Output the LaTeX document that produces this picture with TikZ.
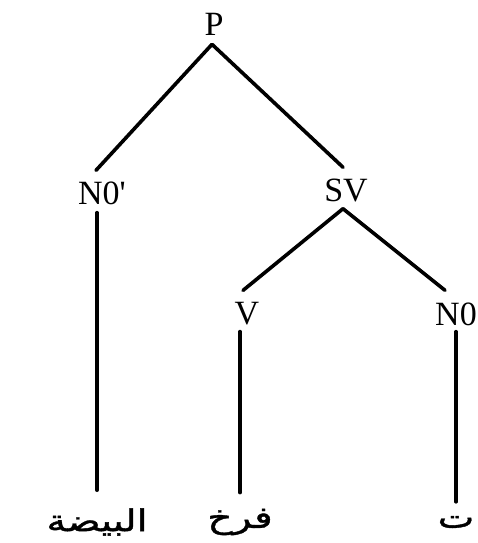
\documentclass[tikz,border=0pt]{standalone}
\usepackage{fontspec}
\setmainfont{Liberation Serif}
\newfontfamily\arabicfont[Script=Arabic,FakeStretch=1.3,FakeBold=1.2]{DejaVu Sans}
\TeXXeTstate=1
\begin{document}
\begin{tikzpicture}[x=1pt,y=-1pt,
  lbl/.style={inner sep=0pt,font=\fontsize{34}{38}\selectfont},
  word/.style={inner sep=0pt,font=\arabicfont\fontsize{30}{34}\selectfont},
  branch/.style={line width=3.6pt,line cap=round}]
\useasboundingbox (0,0) rectangle (478,543);
% category labels
\node[lbl] (P)   at (214,24)  {P};
\node[lbl] (N0p) at (102,193) {N0\textquotesingle};
\node[lbl] (SV)  at (346,190) {SV};
\node[lbl] (V)   at (247,314) {V};
\node[lbl] (N0)  at (456,314) {N0};
% Arabic leaves
\node[word] (w1) at (97,522)  {\beginR البيضة\endR};
\node[word] (w2) at (240,522) {\beginR فرخ\endR};
\node[word] (w3) at (456,522) {\beginR ت\endR};
% branches
\draw[branch] ([xshift=-2pt,yshift=-9pt]P.south) -- ([xshift=-6pt,yshift=11pt]N0p.north);
\draw[branch] ([xshift=-2pt,yshift=-9pt]P.south) -- ([xshift=-3pt,yshift=11pt]SV.north);
\draw[branch] ([xshift=-3pt,yshift=-7pt]SV.south) -- ([xshift=-4pt,yshift=12pt]V.north);
\draw[branch] ([xshift=-3pt,yshift=-7pt]SV.south) -- ([xshift=-11pt,yshift=12pt]N0.north);
\draw[branch] ([yshift=-8pt]N0p.south -| w1.north) -- ([yshift=18pt]w1.north);
\draw[branch] ([yshift=-6pt]V.south -| w2.north) -- ([yshift=16pt]w2.north);
\draw[branch] ([yshift=-6pt]N0.south -| w3.north) -- ([yshift=14pt]w3.north);
\end{tikzpicture}
\end{document}
